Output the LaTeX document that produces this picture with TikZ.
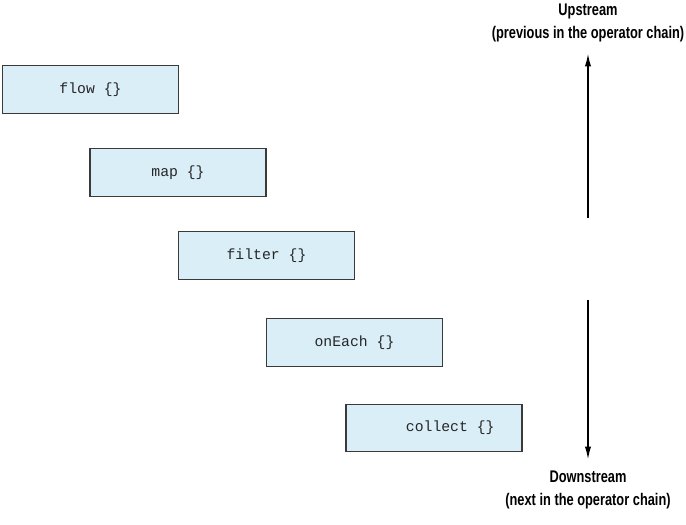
\documentclass[tikz,border=0pt]{standalone}
\usepackage{fontspec}
\usepackage{tikz}
\usetikzlibrary{positioning, arrows.meta}
\newfontfamily\labelfont[FakeStretch=0.76]{Liberation Sans}
\newfontfamily\codefont{Liberation Mono}
\definecolor{opFill}{HTML}{DAEEF8}
\definecolor{opDraw}{HTML}{3A3A3A}

\begin{document}
\begin{tikzpicture}[
        x=0.025cm, y=-0.025cm,
        op/.style={
          rectangle, draw=opDraw, line width=0.8pt,
          fill=opFill, minimum width=4.4cm, minimum height=1.18cm,
          font=\codefont\fontsize{10.5}{12}\selectfont, text=black!85
        },
        side/.style={
          align=center, font=\labelfont\bfseries\fontsize{12}{16}\selectfont
        },
        arr/.style={-{Latex[length=9pt, width=4.5pt]}, line width=0.9pt}
      ]
      \useasboundingbox (0,0) rectangle (686,525);

      % Operatoren
      \node[op] (flow)    at (90.5,89.5)  {flow \{\}};
      \node[op] (map)     at (178,172.5)  {map \{\}};
      \node[op] (filter)  at (266.5,255.5) {filter \{\}};
      \node[op] (onEach)  at (354.5,342.5) {onEach \{\}};
      \node[op] (collect) at (434,428)    {\hspace*{2.2em}collect \{\}};

      % Richtung
      \node[side] (up)   at (588,23)  {Upstream\\(previous in the operator chain)};
      \node[side] (down) at (588,490) {Downstream\\(next in the operator chain)};
      \coordinate (upfoot)   at (588,218);
      \coordinate (downhead) at (588,300);

      \draw[arr] (upfoot) -- ([yshift=-5pt]up.south);
      \draw[arr] (downhead) -- ([yshift=5pt]down.north);

    \end{tikzpicture}
\end{document}
